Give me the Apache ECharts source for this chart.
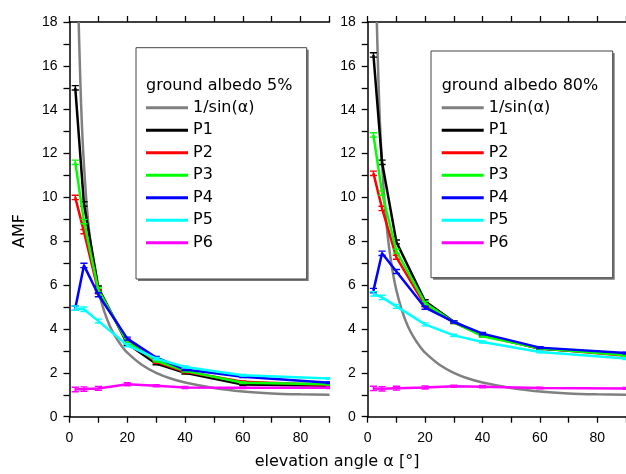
<!DOCTYPE html>
<html>
<head>
<meta charset="utf-8">
<script src="https://cdn.jsdelivr.net/npm/echarts@6/dist/echarts.min.js"></script>
<style>html,body{margin:0;padding:0;background:#fff;}#c{width:626px;height:474px;}</style>
</head>
<body>
<div id="c"></div>
<script>
// ---- data ----
const angles = [2, 5, 10, 20, 30, 40, 60, 90];
const names = ['P1', 'P2', 'P3', 'P4', 'P5', 'P6'];
const panelTitles = ['ground albedo 5%', 'ground albedo 80%'];

const p1Albedo5 = [15.0, 9.7, 5.87, 3.33, 2.42, 2.00, 1.47, 1.41];
const p2Albedo5 = [10.0, 8.44, 5.70, 3.48, 2.50, 2.05, 1.59, 1.44];
const p3Albedo5 = [11.6, 8.90, 5.78, 3.40, 2.55, 2.09, 1.55, 1.48];
const p4Albedo5 = [4.95, 6.90, 5.56, 3.56, 2.70, 2.15, 1.82, 1.55];
const p5Albedo5 = [4.95, 4.90, 4.36, 3.26, 2.65, 2.27, 1.89, 1.74];
const p6Albedo5 = [1.24, 1.26, 1.29, 1.48, 1.41, 1.33, 1.32, 1.32];

const p1Albedo80 = [16.5, 11.6, 7.97, 5.26, 4.33, 3.72, 3.10, 2.85];
const p2Albedo80 = [11.1, 9.50, 7.27, 5.08, 4.30, 3.70, 3.12, 2.78];
const p3Albedo80 = [12.85, 10.2, 7.55, 5.18, 4.30, 3.67, 3.12, 2.80];
const p4Albedo80 = [5.75, 7.45, 6.62, 4.97, 4.32, 3.79, 3.15, 2.90];
const p5Albedo80 = [5.60, 5.44, 5.03, 4.21, 3.71, 3.41, 2.95, 2.65];
const p6Albedo80 = [1.29, 1.27, 1.30, 1.33, 1.39, 1.37, 1.31, 1.29];

const errorBar = [0.1, 0.1, 0.09, 0.07, 0.05, 0.05, 0.04, 0.04];

// 1/sin(alpha) curve
const geoAngles = [3.18, 3.5, 4, 4.5, 5, 6, 7, 8, 9, 10, 12, 14, 16, 18, 20, 25, 30, 35, 40, 50, 60, 70, 80, 90];
const geoValues = [18.0, 16.4, 14.3, 12.7, 11.5, 9.57, 8.21, 7.19, 6.39, 5.76, 4.81, 4.13, 3.63, 3.24, 2.92, 2.37, 2.00, 1.74, 1.56, 1.31, 1.15, 1.06, 1.02, 1.00];

const xTicks = { min: 0, max: 90, interval: 20 };
const yTicks = { min: 0, max: 18, interval: 2 };

// ---- styling ----
const colors = ['#000000', '#ff0000', '#00ff00', '#0000ff', '#00ffff', '#ff00ff'];
const FONT = '"Liberation Sans", Arial, Helvetica, sans-serif';
const TFONT = '"DejaVu Sans", "Liberation Sans", sans-serif';
const panels = [
  [p1Albedo5, p2Albedo5, p3Albedo5, p4Albedo5, p5Albedo5, p6Albedo5],
  [p1Albedo80, p2Albedo80, p3Albedo80, p4Albedo80, p5Albedo80, p6Albedo80]
];
const gridLefts = [69.5, 367.7];
const legendLefts = [146, 441.7];
const boxes = [[136, 47.7, 170.7, 231.3], [431, 51, 181.7, 226.7]];
const geoName = '1/sin(α)';

const grids = gridLefts.map(l => ({ left: l, top: 22, width: 260, height: 394.7 }));

const axisLine = { show: true, onZero: false, lineStyle: { color: '#000', width: 1.5 } };
const tick = { show: true, inside: false, length: 6, lineStyle: { color: '#000', width: 1.3 } };
const minor = { show: true, splitNumber: 2, length: 6, lineStyle: { color: '#000', width: 1.3 } };

const xAxes = [], yAxes = [];
grids.forEach((g, i) => {
  xAxes.push({
    type: 'value', gridIndex: i, position: 'bottom', min: xTicks.min, max: xTicks.max, interval: xTicks.interval,
    axisLine, axisTick: tick, minorTick: minor, splitLine: { show: false },
    axisLabel: { show: true, showMaxLabel: false, fontSize: 14, color: '#000', fontFamily: FONT, margin: 14 }
  });
  xAxes.push({
    type: 'value', gridIndex: i, position: 'top', min: xTicks.min, max: xTicks.max, interval: xTicks.interval,
    axisLine, axisTick: tick, minorTick: minor, splitLine: { show: false },
    axisLabel: { show: false }
  });
  yAxes.push({
    type: 'value', gridIndex: i, position: 'left', min: yTicks.min, max: yTicks.max, interval: yTicks.interval,
    axisLine, axisTick: tick, minorTick: minor, splitLine: { show: false },
    axisLabel: { fontSize: 14, color: '#000', fontFamily: FONT, margin: 12 }
  });
});

function errRender(params, api) {
  const x = api.value(0), y = api.value(1), e = api.value(2);
  const top = api.coord([x, y + e]);
  const bot = api.coord([x, y - e]);
  const w = 3.6;
  const style = { stroke: api.visual('color'), lineWidth: 1.4, fill: null };
  return {
    type: 'group', children: [
      { type: 'line', shape: { x1: top[0], y1: top[1], x2: bot[0], y2: bot[1] }, style },
      { type: 'line', shape: { x1: top[0] - w, y1: top[1], x2: top[0] + w, y2: top[1] }, style },
      { type: 'line', shape: { x1: bot[0] - w, y1: bot[1], x2: bot[0] + w, y2: bot[1] }, style }
    ]
  };
}

const series = [];
panels.forEach((vals, p) => {
  series.push({
    name: geoName, type: 'line', xAxisIndex: p * 2, yAxisIndex: p, smooth: 0.3,
    showSymbol: false, symbol: 'none', clip: true, z: 2,
    lineStyle: { color: '#808080', width: 2.5 }, itemStyle: { color: '#808080' },
    data: geoAngles.map((a, k) => [a, geoValues[k]])
  });
  vals.forEach((arr, s) => {
    series.push({
      name: names[s], type: 'line', xAxisIndex: p * 2, yAxisIndex: p,
      showSymbol: false, symbol: 'none', clip: true, z: 3 + s,
      lineStyle: { color: colors[s], width: 2.5 }, itemStyle: { color: colors[s] },
      data: angles.map((a, k) => [a, arr[k]])
    });
    series.push({
      name: names[s] + ' error', type: 'custom', xAxisIndex: p * 2, yAxisIndex: p,
      renderItem: errRender, clip: true, z: 3 + s,
      itemStyle: { color: colors[s] },
      data: angles.map((a, k) => [a, arr[k], errorBar[k]])
    });
  });
});

const legends = legendLefts.map(l => ({
  data: [geoName].concat(names),
  orient: 'vertical', left: l, top: 97.7, padding: 0,
  itemWidth: 42, itemHeight: 3, itemGap: 2.5, icon: 'rect', selectedMode: false, z: 6,
  textStyle: { fontSize: 16, lineHeight: 20, color: '#000', fontFamily: TFONT }
}));

const graphics = [];
boxes.forEach((b, i) => {
  graphics.push({ type: 'rect', z: 4, shape: { x: b[0] + 2, y: b[1] + 2, width: b[2], height: b[3] }, style: { fill: '#777' } });
  graphics.push({ type: 'rect', z: 5, shape: { x: b[0], y: b[1], width: b[2], height: b[3] }, style: { fill: '#fff', stroke: '#444', lineWidth: 1 } });
  graphics.push({ type: 'text', z: 6, x: legendLefts[i], y: 86, style: { text: panelTitles[i], fontSize: 16, fontFamily: TFONT, fill: '#000', textVerticalAlign: 'middle' } });
});
graphics.push({ type: 'text', z: 6, x: 20, y: 231, rotation: Math.PI / 2, style: { text: 'AMF', fontSize: 16, fontFamily: TFONT, fill: '#000', textAlign: 'center', textVerticalAlign: 'middle' } });
graphics.push({ type: 'text', z: 6, x: 337, y: 462, style: { text: 'elevation angle α [°]', fontSize: 16, fontFamily: TFONT, fill: '#000', textAlign: 'center', textVerticalAlign: 'middle' } });

const chart = echarts.init(document.getElementById('c'), null, { renderer: 'canvas' });
chart.setOption({
  animation: false,
  backgroundColor: '#fff',
  grid: grids,
  xAxis: xAxes,
  yAxis: yAxes,
  legend: legends,
  graphic: graphics,
  series
});
</script>
</body>
</html>
